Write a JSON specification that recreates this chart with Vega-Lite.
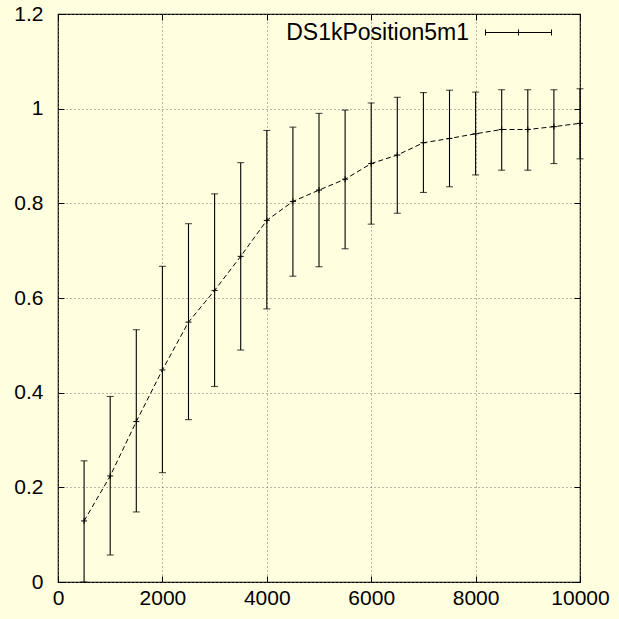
{
  "$schema": "https://vega.github.io/schema/vega-lite/v6.json",
  "width": 522,
  "height": 568,
  "autosize": "none",
  "padding": {"left": 58, "top": 14, "right": 39, "bottom": 37},
  "background": "#ffffe0",
  "config": {
    "view": {"stroke": "black", "strokeWidth": 1.2, "fill": "#ffffe0"},
    "font": "Liberation Sans",
    "axis": {
      "labelFont": "Liberation Sans",
      "labelFontSize": 21,
      "labelColor": "black",
      "tickColor": "black",
      "domain": false,
      "gridColor": "#707070",
      "gridDash": [1, 3],
      "gridWidth": 1,
      "tickSize": -6,
      "tickWidth": 1
    }
  },
  "data": {
    "values": [
      {"x": 500, "mean": 0.129, "lo": 0.0, "hi": 0.256, "series": "DS1kPosition5m1"},
      {"x": 1000, "mean": 0.224, "lo": 0.057, "hi": 0.392, "series": "DS1kPosition5m1"},
      {"x": 1500, "mean": 0.339, "lo": 0.148, "hi": 0.533, "series": "DS1kPosition5m1"},
      {"x": 2000, "mean": 0.448, "lo": 0.231, "hi": 0.667, "series": "DS1kPosition5m1"},
      {"x": 2500, "mean": 0.549, "lo": 0.343, "hi": 0.757, "series": "DS1kPosition5m1"},
      {"x": 3000, "mean": 0.616, "lo": 0.413, "hi": 0.820, "series": "DS1kPosition5m1"},
      {"x": 3500, "mean": 0.688, "lo": 0.490, "hi": 0.886, "series": "DS1kPosition5m1"},
      {"x": 4000, "mean": 0.764, "lo": 0.577, "hi": 0.954, "series": "DS1kPosition5m1"},
      {"x": 4500, "mean": 0.804, "lo": 0.646, "hi": 0.961, "series": "DS1kPosition5m1"},
      {"x": 5000, "mean": 0.828, "lo": 0.666, "hi": 0.990, "series": "DS1kPosition5m1"},
      {"x": 5500, "mean": 0.851, "lo": 0.704, "hi": 0.997, "series": "DS1kPosition5m1"},
      {"x": 6000, "mean": 0.884, "lo": 0.756, "hi": 1.012, "series": "DS1kPosition5m1"},
      {"x": 6500, "mean": 0.902, "lo": 0.779, "hi": 1.024, "series": "DS1kPosition5m1"},
      {"x": 7000, "mean": 0.928, "lo": 0.823, "hi": 1.034, "series": "DS1kPosition5m1"},
      {"x": 7500, "mean": 0.937, "lo": 0.835, "hi": 1.039, "series": "DS1kPosition5m1"},
      {"x": 8000, "mean": 0.947, "lo": 0.860, "hi": 1.035, "series": "DS1kPosition5m1"},
      {"x": 8500, "mean": 0.956, "lo": 0.870, "hi": 1.040, "series": "DS1kPosition5m1"},
      {"x": 9000, "mean": 0.956, "lo": 0.870, "hi": 1.040, "series": "DS1kPosition5m1"},
      {"x": 9500, "mean": 0.962, "lo": 0.884, "hi": 1.040, "series": "DS1kPosition5m1"},
      {"x": 10000, "mean": 0.969, "lo": 0.894, "hi": 1.042, "series": "DS1kPosition5m1"}
    ]
  },
  "resolve": {"axis": {"x": "independent", "y": "independent"}},
  "layer": [
    {
      "mark": {"type": "rule", "color": "black", "strokeWidth": 1.1},
      "encoding": {
        "x": {"field": "x", "type": "quantitative", "scale": {"domain": [0, 10000], "nice": false},
          "axis": {"orient": "bottom", "title": null, "values": [0, 2000, 4000, 6000, 8000, 10000], "format": "d", "labelPadding": 11, "labelFlush": false}},
        "y": {"field": "lo", "type": "quantitative", "scale": {"domain": [0, 1.2], "nice": false},
          "axis": {"orient": "left", "title": null, "values": [0, 0.2, 0.4, 0.6, 0.8, 1, 1.2], "format": "~g", "labelPadding": 21, "labelFlush": false}},
        "y2": {"field": "hi"}
      }
    },
    {
      "mark": {"type": "tick", "orient": "horizontal", "size": 7, "thickness": 1.1, "color": "black"},
      "encoding": {
        "x": {"field": "x", "type": "quantitative", "axis": {"orient": "top", "title": null, "labels": false, "grid": false, "values": [0, 2000, 4000, 6000, 8000, 10000]}},
        "y": {"field": "lo", "type": "quantitative", "axis": {"orient": "right", "title": null, "labels": false, "grid": false, "values": [0, 0.2, 0.4, 0.6, 0.8, 1, 1.2]}}
      }
    },
    {
      "mark": {"type": "tick", "orient": "horizontal", "size": 7, "thickness": 1.1, "color": "black"},
      "encoding": {
        "x": {"field": "x", "type": "quantitative", "axis": null},
        "y": {"field": "hi", "type": "quantitative", "axis": null}
      }
    },
    {
      "mark": {"type": "line", "color": "black", "strokeWidth": 1, "strokeDash": [5, 3]},
      "encoding": {
        "x": {"field": "x", "type": "quantitative", "axis": null},
        "y": {"field": "mean", "type": "quantitative", "axis": null}
      }
    },
    {
      "mark": {"type": "point", "shape": "M-1,0H1M0,-1V1", "size": 36, "filled": false, "strokeWidth": 1, "opacity": 1},
      "encoding": {
        "x": {"field": "x", "type": "quantitative", "axis": null},
        "y": {"field": "mean", "type": "quantitative", "axis": null},
        "color": {"field": "series", "type": "nominal", "scale": {"range": ["black"]},
          "legend": {
            "title": null, "orient": "none", "legendX": 447, "legendY": 5,
            "symbolType": "M-11,0H11M-11,-1V1M11,-1V1M0,-1V1",
            "symbolSize": 36, "symbolStrokeColor": "black", "symbolFillColor": "transparent", "symbolStrokeWidth": 1,
            "labelFont": "Liberation Sans", "labelFontSize": 23, "labelColor": "black", "labelAlign": "right", "labelOffset": -61, "labelLimit": 400,
            "fillColor": "#ffffe0", "padding": 2
          }}
      }
    }
  ]
}
